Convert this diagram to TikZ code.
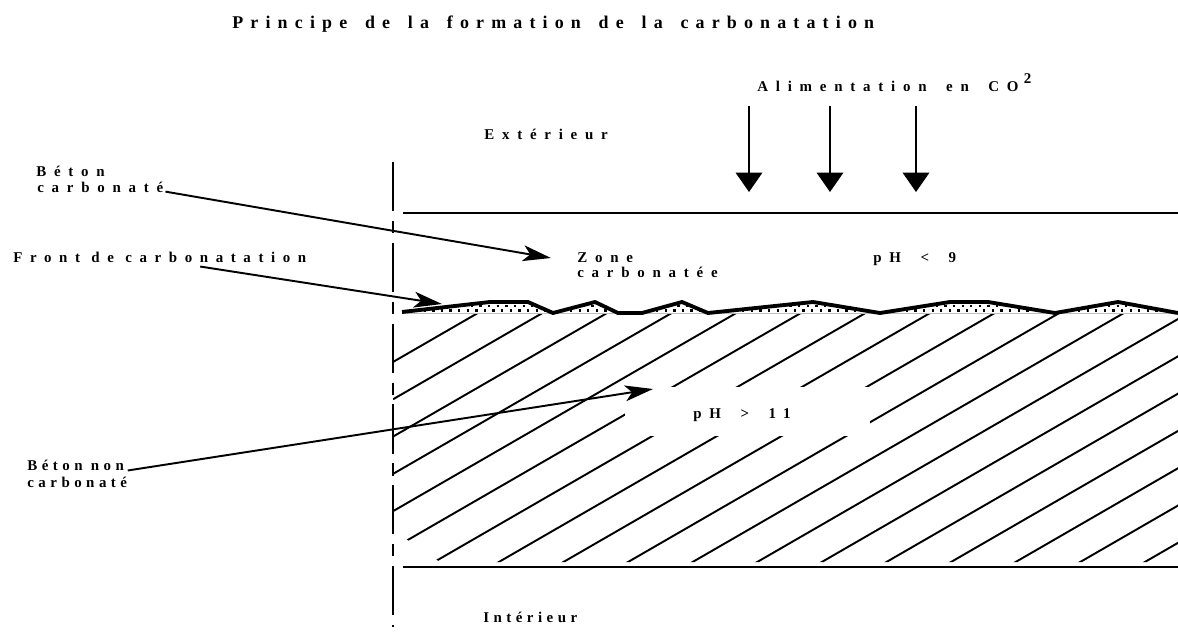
\documentclass[tikz,border=0pt]{standalone}
\usepackage{fontspec}
\setmainfont{Liberation Serif}
\newfontfamily\titlefont{Liberation Serif}[LetterSpace=40,WordSpace=1.53]
\newfontfamily\lblfont{Liberation Serif}[LetterSpace=52,WordSpace=1.7]
\newfontfamily\frontfont{Liberation Serif}[LetterSpace=51]
\newfontfamily\lbltightfont{Liberation Serif}[LetterSpace=30]
\usetikzlibrary{arrows.meta}

\newcommand\frontline{(402,312) -- (490,302) -- (528,302) -- (553,313) -- (595,302) -- (618,313) -- (642,313) -- (682,302) -- (708,313) -- (813,302) -- (880,313) -- (950,302) -- (988,302) -- (1055,313) -- (1118,302) -- (1178,313)}

\begin{document}
\begin{tikzpicture}[x=0.02cm,y=-0.02cm,
    lbl/.style={anchor=base west,inner sep=0pt,font=\lblfont\bfseries\fontsize{8.5}{10}\selectfont},
    lbltight/.style={lbl,font=\lbltightfont\bfseries\fontsize{8.5}{10}\selectfont},
    lead/.style={line width=1.1pt,-{Stealth[length=16pt,width=9pt,inset=4pt]}},
    feed/.style={line width=1.3pt,-{Triangle[length=11pt,width=15pt]}}]
    \useasboundingbox (0,0) rectangle (1178,633);

    \begin{scope}
        \clip (393,313) -- (1178,313) -- (1178,562) -- (440,562) -- (393,530) -- cycle;
        \foreach \c in {0,...,17}
            \draw[line width=1.1pt] (393,{362+37.3*\c}) -- ++(1000,-577.4);
    \end{scope}
    \fill[white] (625,387) rectangle (870,436);

    \begin{scope}
        \clip \frontline -- (1178,314) -- (402,314) -- cycle;
        \draw[line width=1.3pt,dash pattern=on 1.3pt off 3.6pt] (402,306) -- (1178,306);
        \draw[line width=1.3pt,dash pattern=on 1.3pt off 3.6pt,dash phase=2.4pt] (402,310.5) -- (1178,310.5);
    \end{scope}
    \draw[gray!50,line width=0.5pt] (402,313) -- (1178,313);
    \draw[line width=2.2pt,line join=round] \frontline;

    \draw[line width=1.1pt] (403,213) -- (1178,213);
    \draw[line width=1.6pt] (403,567) -- (1178,567);
    \draw[line width=1.1pt,dash pattern=on 28pt off 5.5pt on 7pt off 5.5pt] (393,162) -- (393,627);

    \node[anchor=base west,inner sep=0pt,font=\titlefont\bfseries\fontsize{10.2}{12}\selectfont] (title) at (232,28) {Principe de la formation de la carbonatation};
    \node[lbl] (co2) at (757,91) {Alimentation en CO\hspace{3pt}\raisebox{4pt}{2}};
    \node[lbl] (ext) at (484,139) {Extérieur};
    \node[lbltight] (int) at (483,622) {Intérieur};
    \node[lbl] (zone1) at (577,262) {Zone};
    \node[lbl] (zone2) at (577,277) {carbonatée};
    \node[lbl] (ph9) at (873,262) {pH < 9};
    \node[lbl] (ph11) at (693,418) {pH > 11};
    \node[lbl] (bc1) at (36,176) {Béton};
    \node[lbl] (bc2) at (37,192) {carbonaté};
    \node[lbl,font=\frontfont\bfseries\fontsize{8.5}{10}\selectfont] (front) at (13,262) {Front de carbonatation};
    \node[lbltight] (bn1) at (27,470) {Béton non};
    \node[lbltight] (bn2) at (27,487) {carbonaté};

    \foreach \x [count=\i] in {749,830,916} {
        \coordinate (in\i) at (\x,106);
        \coordinate (out\i) at (\x,192);
        \draw[feed] (in\i) -- (out\i);
    }

    \coordinate (tipbc) at (551,258);
    \coordinate (tipfront) at (442,304);
    \coordinate (tipbn) at (653,389);
    \draw[lead] ([xshift=1pt,yshift=0.5pt]bc2.south east) -- (tipbc);
    \draw[lead] ([xshift=23pt,yshift=-2.3pt]front.south) -- (tipfront);
    \draw[lead] ([xshift=2pt]bn1.south east) -- (tipbn);
\end{tikzpicture}
\end{document}
